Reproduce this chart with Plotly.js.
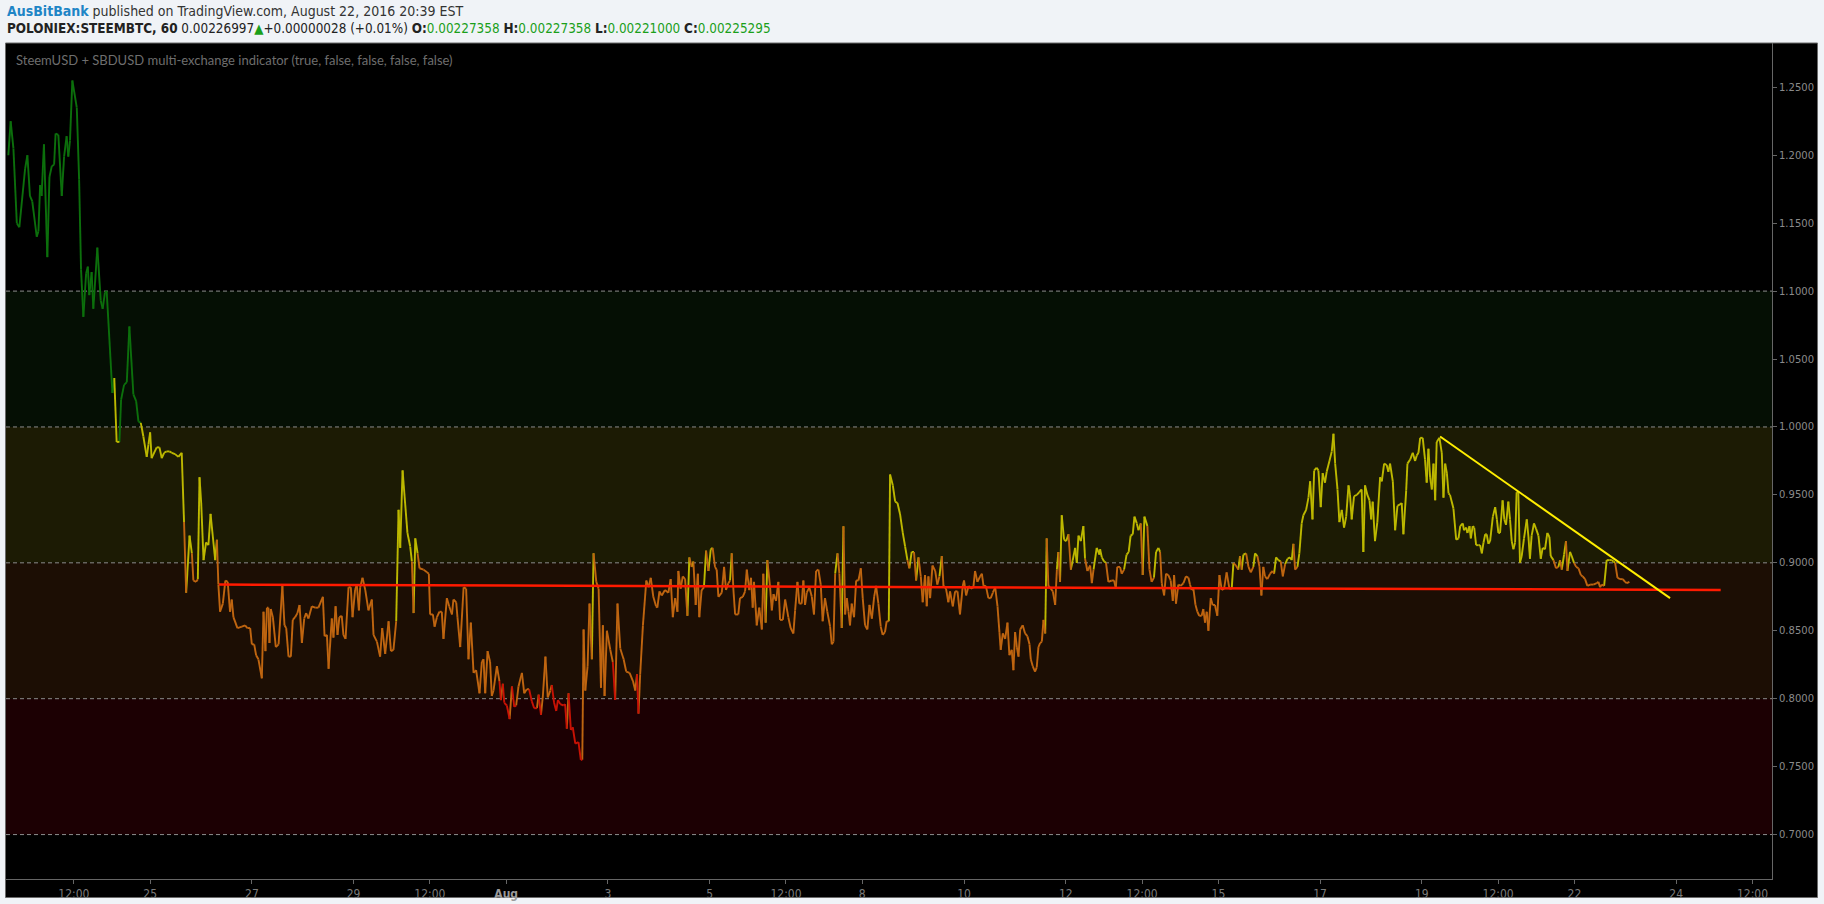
<!DOCTYPE html>
<html>
<head>
<meta charset="utf-8">
<script src="https://cdn.plot.ly/plotly-3.0.1.min.js"></script>
<style>
html,body{margin:0;padding:0;background:#f0f3f7;overflow:hidden;}
#chart{width:1824px;height:904px;}
</style>
</head>
<body>
<div id="chart"></div>
<script>
// ---- data (hours since 2016-07-25 00:00, indicator value) ----
const hoursFromJul25 = [
-66.9,-65.8,-64.5,-62.9,-61.7,-59.0,-57.9,-56.7,-55.6,-53.5,-52.7,-51.9,-51.2,-50.1,-48.5,-47.5,-46.4,-45.3,-44.6,-43.3,
-41.7,-40.6,-39.4,-38.6,-37.8,-36.7,-34.6,-33.5,-32.6,-31.5,-30.2,-29.4,-28.7,-27.6,-26.8,-24.9,-23.3,-22.4,-21.3,-20.5,
-19.2,-17.8,-16.9,-15.8,-14.5,-13.7,-12.3,-11.0,-9.8,-7.9,-6.6,-5.5,-4.4,-3.2,-1.6,-0.8,0.0,0.7,3.1,4.4,
5.5,6.6,7.8,9.1,10.2,11.8,13.3,14.9,16.0,17.0,
18.6,19.7,20.4,21.7,22.5,23.3,24.1,25.2,26.4,27.5,28.5,29.6,30.7,31.5,32.2,33.0,34.3,35.5,36.6,37.7,
38.5,39.3,41.2,43.3,44.8,45.9,47.2,48.0,49.1,50.0,51.1,52.7,53.5,54.4,55.1,55.8,56.3,56.9,57.9,59.3,
60.6,62.4,63.4,64.2,65.3,66.4,67.3,68.4,69.5,70.5,71.6,72.7,73.6,74.7,76.3,77.9,79.4,81.5,82.3,83.4,
84.2,85.7,86.5,87.5,88.4,89.3,90.4,91.2,92.2,93.6,94.7,95.5,96.7,97.5,98.5,99.1,100.2,101.5,103.0,104.6,
105.4,107.0,108.5,109.5,110.9,112.5,113.6,114.8,116.1,117.2,118.0,119.1,120.3,121.4,122.7,123.5,124.3,125.1,126.2,127.1,
129.0,130.6,131.5,132.1,133.4,134.2,135.3,136.5,137.6,138.4,140.0,141.1,142.4,143.1,144.4,145.0,146.3,147.9,149.1,150.2,
151.3,152.6,153.8,155.4,156.5,157.3,158.1,159.2,160.4,161.2,162.0,163.6,164.8,165.5,166.4,167.1,168.3,169.6,170.7,171.8,
172.7,173.8,175.4,176.5,177.7,178.8,180.1,181.2,182.5,183.3,184.4,185.3,186.5,187.6,188.8,189.5,190.6,191.6,192.4,193.5,
195.1,195.8,196.6,197.4,198.5,199.4,200.6,202.1,203.2,203.9,204.5,205.3,206.4,207.3,208.4,209.2,210.5,211.6,212.7,213.6,
214.4,215.5,217.1,218.3,219.4,220.5,221.8,223.4,224.6,226.2,227.8,228.9,229.7,230.4,231.2,232.5,234.1,235.2,
236.2,237.4,238.7,239.3,240.3,241.4,242.9,244.5,245.6,246.6,247.7,248.8,249.2,250.3,251.3,252.4,253.5,254.4,255.5,256.3,
257.4,258.4,259.1,260.2,261.3,262.3,263.4,264.5,265.4,266.5,267.3,268.1,269.7,270.8,271.7,272.8,273.6,274.4,275.2,276.0,
277.5,278.3,279.6,280.7,281.5,282.7,283.5,284.3,284.9,286.2,287.4,288.6,289.3,290.4,291.2,292.5,293.3,294.1,295.3,296.4,
297.2,298.5,299.6,301.1,302.2,303.5,304.3,305.4,306.3,307.4,308.2,309.0,309.8,311.0,312.2,313.2,314.2,315.3,316.4,317.3,
318.4,319.5,320.8,321.6,322.4,323.2,324.3,325.2,326.3,327.1,327.9,328.7,329.5,330.2,331.0,332.1,333.1,334.2,335.3,336.2,
337.3,338.4,339.4,340.5,341.6,342.5,343.6,344.7,345.6,346.7,347.5,348.5,349.1,350.4,351.5,352.6,353.8,355.1,356.2,357.3,
358.2,359.3,360.4,361.4,362.5,363.6,364.5,365.6,366.4,367.2,368.0,369.1,370.4,371.4,372.4,373.5,374.3,375.5,376.6,377.4,
378.7,379.8,380.9,382.1,383.4,384.0,385.0,386.1,387.2,388.4,389.2,390.3,391.6,392.4,393.2,394.3,395.5,396.6,397.6,398.7,
399.8,400.7,401.3,402.3,403.4,404.5,405.4,406.5,407.3,408.1,408.9,409.7,410.5,411.7,412.8,413.9,414.9,415.5,416.4,417.5,
418.3,419.1,419.9,420.7,421.5,422.3,423.0,423.8,424.9,425.9,427.0,427.8,428.5,429.3,430.1,431.2,432.2,433.3,434.4,435.3,
436.4,437.2,438.0,439.1,440.3,441.1,442.2,443.5,444.3,445.1,446.6,447.9,
448.2,449.0,450.1,451.0,452.1,453.7,454.8,455.6,456.3,457.6,458.4,459.5,460.7,461.7,462.6,463.6,464.4,465.5,466.3,467.4,
468.3,469.1,470.5,471.5,472.5,473.6,474.6,475.7,476.5,477.3,478.4,479.3,480.4,481.5,482.5,483.1,484.0,485.1,486.2,487.5,
488.7,489.9,490.6,491.4,492.2,493.2,494.1,495.0,496.1,496.9,497.7,498.5,499.3,500.4,501.3,502.4,503.5,504.5,505.6,506.7,
507.9,509.2,510.3,511.1,512.3,513.4,514.2,515.0,515.8,517.1,518.2,519.3,520.5,521.3,522.4,523.4,524.3,525.2,526.0,527.1,
528.4,529.6,530.3,531.2,532.3,533.4,534.4,535.5,536.6,537.8,538.6,539.4,540.2,541.3,542.2,543.3,544.1,545.4,546.5,547.3,
548.4,549.2,550.4,551.2,552.3,553.2,554.3,555.1,556.4,557.5,558.3,559.1,560.2,561.1,562.2,563.3,564.3,565.4,566.1,566.9,
568.0,569.3,570.5,571.6,572.4,573.2,574.3,575.3,576.1,576.8,577.9,579.0,580.3,581.1,582.2,583.4,584.2,585.0,586.3,587.4,
588.5,589.7,590.5,591.3,592.6,593.2,594.5,595.7,596.8,597.6,598.4,599.2,600.4,601.5,602.3,603.1,603.9,604.7,605.5,606.3,
607.0,608.3,609.4,610.2,611.0,611.8,612.6,613.3,614.9,616.2,617.3,618.1,619.3,619.9,620.9,621.5,622.5,623.1,624.0,624.7,
625.6,626.7,627.5,628.3,629.1,629.9,630.6,631.4,632.2,633.5,634.6,635.4,636.1,636.9,
638.1,638.9,639.7,640.8,641.6,642.4,643.2,644.0,644.7,645.5,646.3,647.1,648.2,649.5,650.3,651.0,651.8,652.9,653.9,655.0,
656.1,657.0,658.1,659.2,660.2,660.8,662.1,663.3,664.4,665.2,666.0,667.1,668.0,668.7,669.9,670.7,671.8,672.8,673.9,675.0,
675.9,677.0,678.1,679.4,680.9,682.5,683.3,684.1,684.9,686.0,687.2,688.5,689.6,690.4,691.2,692.3,693.5,694.8,695.9,696.7,
697.9
];
const indicatorValues = [
1.200,1.225,1.205,1.150,1.147,1.190,1.200,1.170,1.166,1.140,1.144,1.178,1.170,1.208,1.125,1.184,1.192,1.193,1.216,1.215,
1.170,1.199,1.214,1.199,1.211,1.255,1.235,1.182,1.116,1.081,1.113,1.118,1.097,1.114,1.087,1.132,1.093,1.087,1.099,1.100,
1.064,1.025,1.036,0.989,0.989,1.020,1.031,1.033,1.074,1.024,1.019,1.004,1.003,0.993,0.978,0.987,0.996,0.977,0.985,0.985,
0.977,0.981,0.982,0.982,0.981,0.980,0.978,0.981,0.930,0.878,
0.920,0.907,0.887,0.886,0.888,0.963,0.944,0.902,0.915,0.913,0.936,0.919,0.902,0.917,0.884,0.864,0.870,0.887,0.886,0.864,
0.873,0.860,0.852,0.853,0.854,0.852,0.852,0.840,0.840,0.832,0.829,0.815,0.864,0.835,0.867,0.867,0.841,0.866,0.860,0.838,
0.840,0.883,0.854,0.852,0.831,0.831,0.858,0.860,0.863,0.869,0.841,0.859,0.863,0.859,0.868,0.867,0.867,0.875,0.846,0.847,
0.822,0.859,0.845,0.868,0.847,0.860,0.861,0.847,0.844,0.882,0.882,0.860,0.880,0.884,0.865,0.882,0.889,0.880,0.865,0.873,
0.847,0.842,0.831,0.852,0.833,0.857,0.835,0.836,0.857,0.939,0.911,0.968,0.944,0.922,0.912,0.901,0.863,0.918,0.907,0.896,
0.895,0.893,0.892,0.862,0.862,0.853,0.860,0.864,0.864,0.844,0.874,0.868,0.862,0.873,0.871,0.860,0.838,0.882,0.881,0.829,
0.856,0.819,0.821,0.804,0.827,0.829,0.804,0.835,0.827,0.802,0.806,0.824,0.813,0.799,0.811,0.797,0.795,0.785,0.809,0.794,
0.795,0.809,0.819,0.804,0.807,0.807,0.798,0.793,0.793,0.803,0.788,0.802,0.831,0.801,0.806,0.810,0.797,0.791,0.799,0.796,
0.795,0.796,0.778,0.804,0.777,0.779,0.767,0.768,0.755,0.755,0.851,0.806,0.824,0.870,0.829,0.907,0.886,0.881,0.808,0.854,
0.802,0.850,0.836,0.827,0.799,0.870,0.837,0.829,0.820,0.819,0.813,0.806,0.818,0.789,0.818,0.854,0.887,0.882,
0.889,0.875,0.868,0.867,0.879,0.876,0.880,0.878,0.888,0.860,0.874,0.864,0.894,0.881,0.890,0.888,0.861,0.904,0.897,0.901,
0.869,0.892,0.860,0.880,0.882,0.909,0.894,0.910,0.911,0.897,0.895,0.875,0.878,0.897,0.880,0.885,0.887,0.907,0.880,0.862,
0.862,0.874,0.875,0.879,0.895,0.880,0.889,0.867,0.886,0.854,0.867,0.851,0.892,0.856,0.902,0.882,0.865,0.877,0.872,0.886,
0.858,0.858,0.873,0.860,0.852,0.848,0.865,0.886,0.870,0.870,0.887,0.869,0.878,0.882,0.875,0.862,0.894,0.895,0.884,0.857,
0.874,0.864,0.853,0.840,0.842,0.892,0.907,0.892,0.852,0.927,0.862,0.874,0.864,0.854,0.870,0.860,0.887,0.887,0.896,0.874,
0.854,0.851,0.869,0.859,0.875,0.883,0.870,0.853,0.847,0.849,0.857,0.857,0.965,0.957,0.945,0.944,0.936,0.922,0.912,0.902,
0.896,0.908,0.908,0.887,0.904,0.890,0.871,0.891,0.868,0.890,0.874,0.898,0.894,0.884,0.890,0.905,0.883,0.881,0.871,0.879,
0.868,0.879,0.879,0.862,0.883,0.887,0.876,0.883,0.881,0.882,0.894,0.886,0.890,0.892,0.883,0.883,0.874,0.874,0.878,0.882,
0.868,0.849,0.836,0.848,0.844,0.856,0.832,0.836,0.821,0.849,0.838,0.831,0.851,0.854,0.848,0.846,0.840,0.829,0.824,0.820,
0.823,0.838,0.841,0.842,0.858,0.848,0.918,0.883,0.881,0.879,0.869,0.895,0.908,0.886,0.935,0.917,0.916,0.921,0.895,0.902,
0.911,0.900,0.920,0.916,0.927,0.903,0.894,0.898,0.885,0.895,0.911,0.906,
0.910,0.904,0.901,0.900,0.886,0.887,0.887,0.881,0.897,0.897,0.892,0.895,0.906,0.908,0.920,0.921,0.934,0.929,0.924,0.929,
0.891,0.934,0.927,0.895,0.886,0.889,0.908,0.911,0.908,0.885,0.876,0.892,0.891,0.887,0.872,0.891,0.870,0.884,0.883,0.885,
0.890,0.889,0.884,0.880,0.881,0.869,0.864,0.861,0.861,0.866,0.856,0.864,0.850,0.874,0.869,0.869,0.861,0.891,0.880,0.881,
0.893,0.881,0.881,0.900,0.898,0.895,0.905,0.895,0.906,0.907,0.897,0.893,0.897,0.907,0.905,0.897,0.876,0.897,0.890,0.888,
0.892,0.894,0.892,0.904,0.902,0.901,0.890,0.899,0.903,0.904,0.902,0.914,0.895,0.897,0.907,0.929,0.935,0.939,0.948,0.960,
0.932,0.968,0.970,0.968,0.941,0.966,0.959,0.967,0.975,0.982,0.995,0.973,0.954,0.930,0.939,0.926,0.934,0.957,0.950,0.932,
0.949,0.950,0.952,0.954,0.908,0.957,0.950,0.946,0.932,0.945,0.916,0.930,0.963,0.960,0.973,0.972,0.967,0.973,0.960,0.924,
0.942,0.943,0.944,0.921,0.953,0.973,0.976,0.981,0.975,0.979,0.981,0.992,0.992,0.976,0.959,0.984,0.963,0.954,0.973,0.946,
0.989,0.992,0.981,0.948,0.973,0.966,0.951,0.950,0.940,0.917,0.918,0.927,0.929,0.924,0.926,0.922,0.927,0.918,0.927,0.926,
0.913,0.913,0.913,0.907,0.915,0.921,0.921,0.914,0.916,0.934,0.941,0.932,0.922,0.922,
0.946,0.932,0.928,0.945,0.932,0.916,0.910,0.915,0.952,0.952,0.900,0.905,0.918,0.932,0.919,0.903,0.920,0.929,0.925,0.920,
0.903,0.911,0.910,0.922,0.919,0.905,0.902,0.896,0.897,0.902,0.895,0.906,0.916,0.894,0.908,0.905,0.900,0.897,0.896,0.891,
0.890,0.888,0.883,0.884,0.884,0.885,0.886,0.882,0.884,0.883,0.902,0.902,0.902,0.901,0.900,0.889,0.888,0.888,0.886,0.885,
0.886
];

// trend lines drawn on the chart
const supportHours = [32.5, 741.0];
const supportValues = [0.884, 0.880];
const resistanceHours = [608.6, 717.1];
const resistanceValues = [0.993, 0.874];

// zone boundaries and colours
const zoneLevels = [0.7, 0.8, 0.9, 1.0, 1.1];
const zoneFills = ['#1c0003', '#1c0e04', '#1c1b04', '#050f04'];
const lineColors = {green: '#0c6f0c', yellow: '#bdb800', orange: '#bf6510', red: '#c81205'};

// axis ticks
const xTickDates = ['2016-07-23 12:00','2016-07-25','2016-07-27','2016-07-29','2016-07-30 12:00','2016-08-01',
  '2016-08-03','2016-08-05','2016-08-06 12:00','2016-08-08','2016-08-10','2016-08-12','2016-08-13 12:00',
  '2016-08-15','2016-08-17','2016-08-19','2016-08-20 12:00','2016-08-22','2016-08-24','2016-08-25 12:00'];
const xTickLabels = ['12:00','25','27','29','12:00','<b><span style="color:#9a9a9a">Aug</span></b>','3','5','12:00','8',
  '10','12','12:00','15','17','19','12:00','22','24','12:00'];
const yTickValues = [0.70,0.75,0.80,0.85,0.90,0.95,1.00,1.05,1.10,1.15,1.20,1.25];

// ---- build ----
const BASE = Date.UTC(2016, 6, 25, 0, 0, 0);
function toDate(h) {
  return new Date(BASE + h * 3600000).toISOString().slice(0, 19).replace('T', ' ');
}
const xs = hoursFromJul25.map(toDate);

function zone(v) {
  if (v >= 1.0) return 'green';
  if (v >= 0.9) return 'yellow';
  if (v >= 0.8) return 'orange';
  return 'red';
}
const seg = {green: {x: [], y: []}, yellow: {x: [], y: []}, orange: {x: [], y: []}, red: {x: [], y: []}};
for (let i = 1; i < xs.length; i++) {
  const c = zone(indicatorValues[i]);
  seg[c].x.push(xs[i - 1], xs[i], null);
  seg[c].y.push(indicatorValues[i - 1], indicatorValues[i], null);
}
const traces = Object.keys(seg).map(k => ({
  type: 'scatter', mode: 'lines', x: seg[k].x, y: seg[k].y, connectgaps: false,
  line: {color: lineColors[k], width: 1.9}, hoverinfo: 'skip', showlegend: false
}));
traces.push({type: 'scatter', mode: 'lines', x: supportHours.map(toDate), y: supportValues,
  line: {color: '#ff1a00', width: 2.5}, hoverinfo: 'skip', showlegend: false});
traces.push({type: 'scatter', mode: 'lines', x: resistanceHours.map(toDate), y: resistanceValues,
  line: {color: '#ffee00', width: 2}, hoverinfo: 'skip', showlegend: false});

// pixel helpers for paper coordinates (plot area: x 6..1772, y 43..879)
const PL = 6, PR = 1772, PT = 43, PB = 879;
const px = p => (p - PL) / (PR - PL);
const py = p => (PB - p) / (PB - PT);

const shapes = [];
shapes.push({type: 'rect', xref: 'paper', yref: 'paper', x0: px(5.5), x1: px(1817.5), y0: py(897.5), y1: py(43),
  fillcolor: '#000000', line: {color: '#6a6a6a', width: 1}, layer: 'below'});
for (let i = 0; i < zoneFills.length; i++) {
  shapes.push({type: 'rect', xref: 'paper', yref: 'y', x0: 0, x1: 1, y0: zoneLevels[i], y1: zoneLevels[i + 1],
    fillcolor: zoneFills[i], line: {width: 0}, layer: 'below'});
}
zoneLevels.forEach(l => shapes.push({type: 'line', xref: 'paper', yref: 'y', x0: 0, x1: 1, y0: l, y1: l,
  line: {color: '#8c8c8c', width: 1, dash: '4px,3px'}, layer: 'below'}));

const narrow = '"Liberation Sans Narrow", "DejaVu Sans Condensed", "Arial Narrow", sans-serif';
const annotations = [
  {xref: 'paper', yref: 'paper', x: px(5), y: py(10.5), xanchor: 'left', yanchor: 'middle', showarrow: false,
   text: '<b><span style="color:#1e85c6">AusBitBank</span></b> published on TradingView.com, August 22, 2016 20:39 EST',
   font: {family: narrow, size: 14, color: '#333333'}},
  {xref: 'paper', yref: 'paper', x: px(5), y: py(29), xanchor: 'left', yanchor: 'middle', showarrow: false,
   text: '<b>POLONIEX:STEEMBTC, 60</b> 0.00226997<span style="color:#1a9f1a">▲</span>+0.00000028 (+0.01%) <b>O:</b><span style="color:#1a9f1a">0.00227358</span> <b>H:</b><span style="color:#1a9f1a">0.00227358</span> <b>L:</b><span style="color:#1a9f1a">0.00221000</span> <b>C:</b><span style="color:#1a9f1a">0.00225295</span>',
   font: {family: narrow, size: 13.4, color: '#222222'}},
  {xref: 'paper', yref: 'paper', x: px(14), y: py(60), xanchor: 'left', yanchor: 'middle', showarrow: false,
   text: 'SteemUSD + SBDUSD multi-exchange indicator (true, false, false, false, false)',
   font: {family: 'Lato, "Open Sans", sans-serif', size: 13, color: '#6e6e6e'}}
];

const layout = {
  width: 1824, height: 904,
  margin: {l: PL, r: 1824 - PR, t: PT, b: 904 - PB, pad: 0},
  paper_bgcolor: '#f0f3f7', plot_bgcolor: '#000000',
  showlegend: false,
  xaxis: {type: 'date', range: [toDate(-68.0), toDate(765.2)], showgrid: false, zeroline: false,
    showline: true, linecolor: '#666666', linewidth: 1, ticks: 'outside', ticklen: 4, tickcolor: '#666666',
    tickvals: xTickDates, ticktext: xTickLabels, tickangle: 0,
    tickfont: {family: narrow, size: 12, color: '#7a7a7a'}, fixedrange: true},
  yaxis: {side: 'right', range: [0.6673, 1.2826], showgrid: false, zeroline: false,
    showline: true, linecolor: '#666666', linewidth: 1, ticks: 'outside', ticklen: 4, tickcolor: '#666666',
    tickvals: yTickValues, tickformat: '.4f',
    tickfont: {family: '"DejaVu Sans", sans-serif', size: 10, color: '#8a8a8a'}, fixedrange: true},
  shapes: shapes,
  annotations: annotations
};

Plotly.newPlot('chart', traces, layout, {staticPlot: true, displayModeBar: false});
</script>
</body>
</html>
